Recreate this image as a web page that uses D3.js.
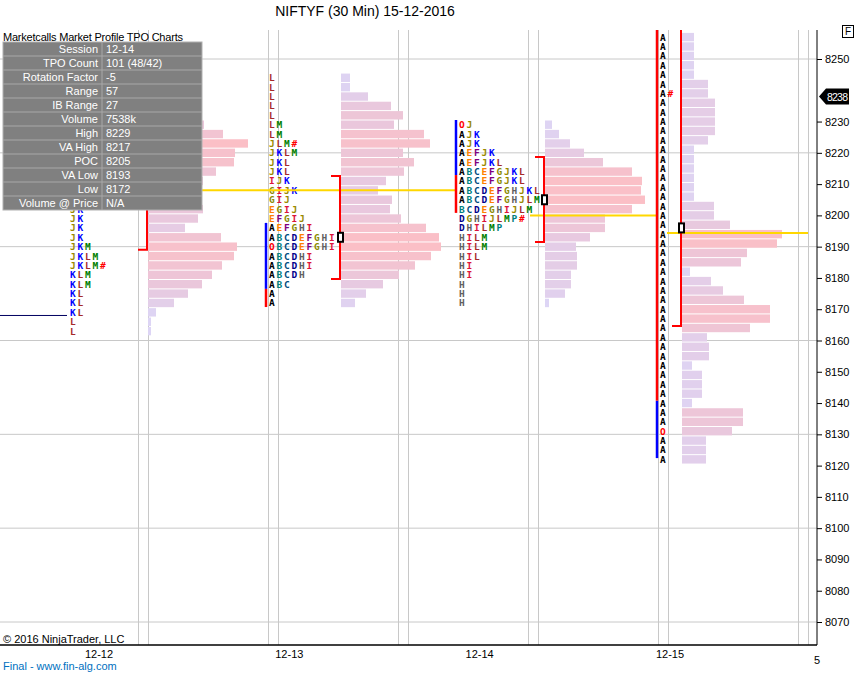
<!DOCTYPE html>
<html><head><meta charset="utf-8">
<script src="https://cdn.jsdelivr.net/npm/d3@7"></script>
<style>body{margin:0;background:#fff}svg{display:block}text{font-family:"Liberation Sans",Arial,sans-serif}</style>
</head><body><svg id="c" width="857" height="673"></svg>
<script>
// ---- data ----
const sessions = ["12-12","12-13","12-14","12-15"];
const priceTicks = [8250,8240,8230,8220,8210,8200,8190,8180,8170,8160,8150,8140,8130,8120,8110,8100,8090,8080,8070];
const gridPrices = [8250,8220,8190,8160,8130,8100,8070];
const s1Top = 8229;
const s1Vol = [56,75,100,87,86,68,55,50,42,55,50,37,73,89,86,74,64,54,40,26,8,3,3];
const s1Tpo = ["","","","","","","","","","JK","JK","JK","JK","JKM","JKLM","JKLM#","KLM","KLM","KL","KL","KL","L","L"];
const s2Top = 8244;
const s2Vol = [9,9,27,50,62,53,83,89,62,73,63,45,37,51,49,60,85,98,100,90,74,58,42,25,14];
const s2Tpo = ["L","L","L","L","L","LM","LM","JLM#","JKLM","JKL","JKL","IJK","GIJK","GIJ","EGIJ","EFGIJ","AEFGHI","ABCDEFGHI","OBCDEFGHI","ABCDHI","ABCDHI","ABCDH","ABC","A","A"];
const s3Top = 8229;
const s3Vol = [7,14,25,39,58,87,97,96,100,87,60,60,45,31,32,32,26,26,20,4];
const s3Tpo = ["OJ","AJK","AJK","AEFJK","AEFJKL","ABCEFGJKL","ABCEFGJKL","ABCDEFGHJKL","ABCDEFGHJLM","BCDEGHIJLM","DGHIJLMP#","DHILMP","HILM","HILM","HIL","HI","HI","H","H","H"];
const s4Top = 8257;
const s4Vol = [12,12,12,12,12,26,26,33,33,33,33,26,12,12,12,12,12,12,32,32,48,100,95,65,59,8,29,41,62,88,88,68,25,27,27,10,20,20,20,10,61,61,50,24,24,24];
const s4Tpo = s4Vol.map((v,i)=> i===6 ? "A#" : (i===42 ? "O" : "A"));
const vaHigh = [8217,8212.6,8218.7,8262];
const vaLow  = [8189,8179.7,8191.5,8164.6];
const pocs   = [8208,8193,8205,8196];
const ibTop  = [null,8197.6,8230.5,8262];
const ibMid  = [null,8176.5,8212.9,8140.7];
const ibBot  = [null,8170.7,8200.8,8122.4];
const ibColors = [null,["#0000ff","#ff0000"],["#0000ff","#ff0000"],["#ff0000","#0000ff"]];
const infoLabels = ["Session","TPO Count","Rotation Factor","Range","IB Range","Volume","High","VA High","POC","VA Low","Low","Volume @ Price"];
const infoValues = ["12-14","101 (48/42)","-5","57","27","7538k","8229","8217","8205","8193","8172","N/A"];
const lastPrice = 8238;

// ---- layout ----
const svg = d3.select("#c");
const plotTop = 30, plotBot = 645, axisX = 817;
const y = d3.scaleLinear().domain([8250,8070]).range([59,622]);
const vx = d3.scaleLinear().domain([0,1]).range([138,268]);
const w = d3.scaleLinear().domain([0,100]).range([0,100]);
const col = d3.scaleLinear().domain([0,50,100]).range(["#dcd6f7","#e9c8dd","#fbbfc6"]);
const letterCol = {A:"#000",B:"#008080",C:"#004c80",D:"#00008b",E:"#ff8000",F:"#800080",G:"#8b8b00",H:"#606060",I:"#dc143c",J:"#9a8a00",K:"#0000ff",L:"#a52a2a",M:"#008000",O:"#ff0000",P:"#008080","#":"#ff0000"};

svg.append("defs").append("clipPath").attr("id","pc").append("rect").attr("x",0).attr("y",plotTop).attr("width",axisX).attr("height",plotBot-plotTop);
const g = svg.append("g").attr("clip-path","url(#pc)");

g.selectAll(".hg").data(gridPrices).join("line").attr("x1",0).attr("x2",axisX).attr("y1",d=>y(d)).attr("y2",d=>y(d)).attr("stroke","#c8c8c8");
const vlines = d3.range(5).flatMap(i=>[vx(i),vx(i)+10]).concat([798,808]);
g.selectAll(".vg").data(vlines).join("line").attr("x1",d=>d+0.5).attr("x2",d=>d+0.5).attr("y1",plotTop).attr("y2",plotBot).attr("stroke","#c8c8c8");

const prof = [
 {top:s1Top,vol:s1Vol,tpo:s1Tpo,bx:148,lx:70},
 {top:s2Top,vol:s2Vol,tpo:s2Tpo,bx:341,lx:269},
 {top:s3Top,vol:s3Vol,tpo:s3Tpo,bx:545,lx:459},
 {top:s4Top,vol:s4Vol,tpo:s4Tpo,bx:682,lx:660}
];
prof.forEach((p,si)=>{
  const rows = p.vol.map((v,i)=>({price:p.top-3*i,v,t:p.tpo[i]}));
  g.append("g").selectAll("rect").data(rows).join("rect")
   .attr("x",p.bx).attr("y",d=>y(d.price)-4.2).attr("height",8.4).attr("width",d=>w(d.v)).attr("fill",d=>col(d.v));
  rows.forEach(r=>{
    [...r.t].forEach((ch,k)=>{
      g.append("text").attr("x",p.lx+k*7.5).attr("y",y(r.price)+3.5).text(ch)
       .attr("fill",letterCol[ch]||"#000").attr("font-size",9.5).attr("font-weight","bold")
       .style("font-family","'DejaVu Sans Mono',monospace");
    });
  });
});
[[8208,148,457],[8200,530,656],[8194.4,667,808]].forEach(([pr,x1,x2])=>{
  g.append("line").attr("x1",x1).attr("x2",x2).attr("y1",y(pr)).attr("y2",y(pr)).attr("stroke","#ffd700").attr("stroke-width",2);
});
prof.forEach((p,si)=>{
  const bx = p.bx-1;
  g.append("path").attr("d",`M${bx-9},${y(vaHigh[si])}H${bx}V${y(vaLow[si])}H${bx-9}`).attr("fill","none").attr("stroke","#ff0000").attr("stroke-width",2);
  g.append("rect").attr("x",bx-2).attr("y",y(pocs[si])-4.5).attr("width",5).attr("height",9).attr("fill","#fff").attr("stroke","#000").attr("stroke-width",2);
  if(ibTop[si]!=null){
    const ix = p.lx-3;
    g.append("line").attr("x1",ix).attr("x2",ix).attr("y1",y(ibTop[si])).attr("y2",y(ibMid[si])).attr("stroke",ibColors[si][0]).attr("stroke-width",2.5);
    g.append("line").attr("x1",ix).attr("x2",ix).attr("y1",y(ibMid[si])).attr("y2",y(ibBot[si])).attr("stroke",ibColors[si][1]).attr("stroke-width",2.5);
  }
});
g.append("line").attr("x1",0).attr("x2",67).attr("y1",y(8168)).attr("y2",y(8168)).attr("stroke","#000060");

svg.append("line").attr("x1",axisX).attr("x2",axisX).attr("y1",plotTop).attr("y2",plotBot).attr("stroke","#000");
const ra = svg.append("g").attr("transform",`translate(${axisX},0)`).call(d3.axisRight(y).tickValues(priceTicks.filter(d=>d!==8240)).tickSize(5).tickFormat(d3.format("d")));
ra.select(".domain").remove();
ra.selectAll("text").attr("font-size",11).attr("font-family","Liberation Sans, Arial").attr("fill","#000");
const ly = y(lastPrice);
svg.append("path").attr("d",`M${axisX+2},${ly}L${axisX+9},${ly-8}H${axisX+32}V${ly+8}H${axisX+9}Z`).attr("fill","#000");
svg.append("text").attr("x",axisX+10).attr("y",ly+4).text(lastPrice).attr("fill","#fff").attr("font-size",10.5).attr("textLength",21);
svg.append("rect").attr("x",842.5).attr("y",25.5).attr("width",11).attr("height",12).attr("fill","#fff").attr("stroke","#000");
svg.append("text").attr("x",845).attr("y",35).text("F").attr("font-size",10);

svg.append("line").attr("x1",0).attr("x2",axisX).attr("y1",plotBot).attr("y2",plotBot).attr("stroke","#000").attr("stroke-width",1.5);
const labX = d3.scalePoint().domain(sessions).range([99,670]);
svg.selectAll(".xl").data(sessions).join("text").attr("x",d=>labX(d)).attr("y",658).attr("text-anchor","middle").attr("font-size",11).text(d=>d);
svg.append("text").attr("x",814).attr("y",664).attr("font-size",11).text("5");

svg.append("text").attr("x",365).attr("y",16).attr("text-anchor","middle").attr("font-size",14).text("NIFTYF (30 Min)  15-12-2016");
svg.append("text").attr("x",3).attr("y",643).attr("font-size",11).text("© 2016 NinjaTrader, LLC");
svg.append("text").attr("x",3).attr("y",670).attr("font-size",11).attr("fill","#0070c0").text("Final - www.fin-alg.com");
svg.append("text").attr("x",3).attr("y",41).attr("font-size",11).attr("textLength",180).text("Marketcalls Market Profile TPO Charts");

const ip = svg.append("g");
ip.append("rect").attr("x",3).attr("y",42).attr("width",199).attr("height",168).attr("fill","#808080").attr("stroke","#b0b0b0");
infoLabels.forEach((l,i)=>{
  const ty = 42+i*14;
  if(i>0) ip.append("line").attr("x1",3).attr("x2",202).attr("y1",ty).attr("y2",ty).attr("stroke","#a8a8a8");
  ip.append("text").attr("x",98).attr("y",ty+11).attr("text-anchor","end").attr("fill","#fff").attr("font-size",11).text(l);
  ip.append("text").attr("x",106).attr("y",ty+11).attr("fill","#fff").attr("font-size",11).text(infoValues[i]);
});
ip.append("line").attr("x1",102).attr("x2",102).attr("y1",42).attr("y2",210).attr("stroke","#a8a8a8");
</script></body></html>
